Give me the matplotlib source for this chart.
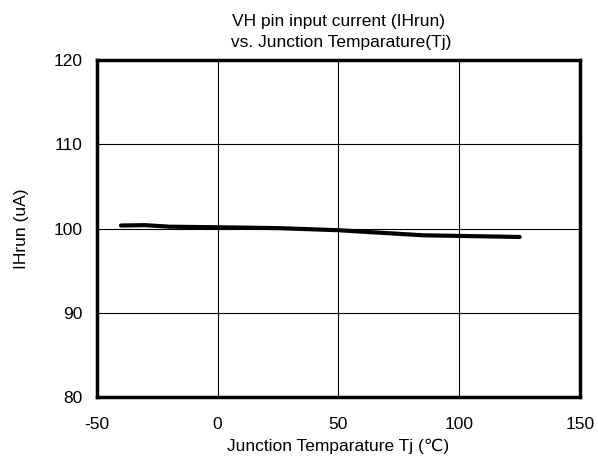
import matplotlib
matplotlib.use("Agg")
import matplotlib.pyplot as plt

temps = [-40, -30, -20, 0, 25, 50, 85, 125]
ihrun = [100.36, 100.4, 100.22, 100.15, 100.05, 99.8, 99.2, 99.0]
xticks = [-50, 0, 50, 100, 150]
yticks = [80, 90, 100, 110, 120]

plt.rcParams['font.family'] = ['Liberation Sans', 'DejaVu Sans']
plt.rcParams['axes.unicode_minus'] = False
fs = 12.5
fig = plt.figure(figsize=(5.98, 4.58), dpi=100)
ax = fig.add_axes([0.162, 0.133, 0.808, 0.736])
ax.plot(temps, ihrun, color='black', linewidth=3, solid_capstyle='round')
ax.set_xlim(-50, 150)
ax.set_ylim(80, 120)
ax.set_xticks(xticks)
ax.set_yticks(yticks)
ax.grid(True, color='black', linewidth=0.8)
ax.tick_params(axis='y', length=0, labelsize=fs, pad=10)
ax.tick_params(axis='x', length=0, labelsize=fs, pad=14)
for s in ax.spines.values():
    s.set_linewidth(2.5)
ax.set_xlabel('Junction Temparature Tj (\u2103)', fontsize=fs, labelpad=5)
ax.set_ylabel('IHrun (uA)', fontsize=fs, labelpad=18)
ax.set_title('VH pin input current (IHrun)\n vs. Junction Temparature(Tj)', fontsize=fs, pad=9, linespacing=1.5)
fig.savefig('out.png', dpi=100)
